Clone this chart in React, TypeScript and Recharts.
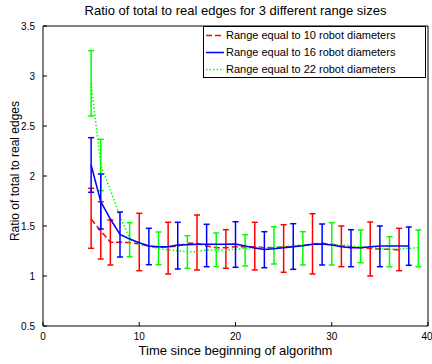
import React from 'react';
import { LineChart, Line, XAxis, YAxis, ErrorBar } from 'recharts';

// time steps
const times = [5, 6, 7, 8, 9, 10, 11, 12, 13, 14, 15, 16, 17, 18, 19, 20, 21, 22, 23, 24, 25, 26, 27, 28, 29, 30, 31, 32, 33, 34, 35, 36, 37, 38, 39];

// mean ratio per series (starting at t=5)
const range10 = [1.57, 1.45, 1.337, 1.337, 1.335, 1.32, 1.3, 1.287, 1.29, 1.3, 1.327, 1.327, 1.3, 1.283, 1.283, 1.293, 1.29, 1.293, 1.283, 1.283, 1.293, 1.293, 1.305, 1.32, 1.327, 1.317, 1.303, 1.29, 1.283, 1.277, 1.27, 1.267, 1.26];
const range16 = [2.11, 1.743, 1.57, 1.417, 1.37, 1.333, 1.3, 1.293, 1.293, 1.31, 1.313, 1.317, 1.317, 1.317, 1.317, 1.32, 1.3, 1.28, 1.265, 1.272, 1.283, 1.293, 1.303, 1.317, 1.32, 1.31, 1.293, 1.283, 1.283, 1.293, 1.3, 1.3, 1.3, 1.3];
const range22 = [2.93, 2.11, 1.86, 1.593, 1.38, 1.317, 1.3, 1.277, 1.26, 1.253, 1.243, 1.243, 1.26, 1.26, 1.26, 1.267, 1.277, 1.283, 1.283, 1.293, 1.293, 1.303, 1.31, 1.317, 1.32, 1.317, 1.31, 1.303, 1.293, 1.287, 1.277, 1.267, 1.27, 1.277, 1.283];

// error bars: where they sit and their low / high ends
const range10BarT = [5, 6, 7, 10, 13, 16, 19, 22, 25, 28, 31, 34, 37];
const range10Lo = [1.277, 1.17, 1.11, 1.053, 1.02, 1.06, 1.077, 1.06, 1.037, 1.02, 1.093, 1.0, 1.053];
const range10Hi = [1.877, 1.743, 1.56, 1.627, 1.537, 1.61, 1.463, 1.537, 1.513, 1.623, 1.5, 1.54, 1.477];

const range16BarT = [5, 6, 8, 11, 14, 17, 20, 23, 26, 29, 32, 35, 38];
const range16Lo = [1.837, 1.47, 1.19, 1.113, 1.07, 1.093, 1.087, 1.083, 1.067, 1.11, 1.093, 1.093, 1.107];
const range16Hi = [2.383, 2.02, 1.64, 1.477, 1.537, 1.517, 1.543, 1.443, 1.523, 1.52, 1.463, 1.5, 1.49];

const range22BarT = [5, 6, 9, 12, 15, 18, 21, 24, 27, 30, 33, 36, 39];
const range22Lo = [2.6, 1.853, 1.193, 1.113, 1.077, 1.093, 1.1, 1.12, 1.11, 1.11, 1.133, 1.093, 1.093];
const range22Hi = [3.253, 2.367, 1.533, 1.44, 1.403, 1.43, 1.413, 1.493, 1.443, 1.533, 1.46, 1.393, 1.46];

const xTicks = [0, 10, 20, 30, 40];
const yTicks = [0.5, 1, 1.5, 2, 2.5, 3, 3.5];

const series = [
    { key: 'r10', name: 'Range equal to 10 robot diameters', color: '#ff0000', dash: '6 3', values: range10, barT: range10BarT, lo: range10Lo, hi: range10Hi },
    { key: 'r22', name: 'Range equal to 22 robot diameters', color: '#00ff00', dash: '1.5 2', values: range22, barT: range22BarT, lo: range22Lo, hi: range22Hi },
    { key: 'r16', name: 'Range equal to 16 robot diameters', color: '#0000ff', dash: undefined, values: range16, barT: range16BarT, lo: range16Lo, hi: range16Hi },
];
const legendOrder = ['r10', 'r16', 'r22'];

const data = times.map((t, i) => {
    const row: any = { t };
    series.forEach(s => {
        const v = i < s.values.length ? s.values[i] : null;
        row[s.key] = v;
        const b = s.barT.indexOf(t);
        row[s.key + 'Err'] = b >= 0 && v != null ? [v - s.lo[b], s.hi[b] - v] : null;
    });
    return row;
});

const FONT = '"Liberation Sans", Arial, Helvetica, sans-serif';

export default function App() {
    return (
        <div style={{ position: 'absolute', left: 0, top: 0, width: 432, height: 364, background: '#fff', fontFamily: FONT, color: '#000' }}>
            <LineChart width={432} height={364} data={data} margin={{ top: 25, right: 3, bottom: 0, left: 0 }} style={{ fontFamily: FONT }}>
                <XAxis
                    dataKey="t"
                    type="number"
                    domain={[0, 40]}
                    ticks={xTicks}
                    allowDataOverflow
                    height={38}
                    stroke="#000"
                    tickSize={-4}
                    tickMargin={11}
                    tick={{ fill: '#000', fontSize: 10 }}
                />
                <XAxis xAxisId="top" orientation="top" type="number" domain={[0, 40]} ticks={xTicks} height={1} stroke="#000" tickSize={-4} tick={false} />
                <YAxis
                    type="number"
                    domain={[0.5, 3.5]}
                    ticks={yTicks}
                    allowDataOverflow
                    width={43}
                    stroke="#000"
                    tickSize={-4}
                    tickMargin={12}
                    tick={{ fill: '#000', fontSize: 10 }}
                />
                <YAxis yAxisId="right" orientation="right" type="number" domain={[0.5, 3.5]} ticks={yTicks} width={1} stroke="#000" tickSize={-4} tick={false} />

                {series.map(s => (
                    <Line
                        key={s.key}
                        dataKey={s.key}
                        type="linear"
                        stroke={s.color}
                        strokeWidth={1.5}
                        strokeDasharray={s.dash}
                        dot={false}
                        activeDot={false}
                        isAnimationActive={false}
                    >
                        <ErrorBar dataKey={s.key + 'Err'} direction="y" width={3} stroke={s.color} strokeWidth={1.5} isAnimationActive={false} />
                    </Line>
                ))}
            </LineChart>

            {/* title and axis labels */}
            <div style={{ position: 'absolute', left: 43, width: 385, top: 3, textAlign: 'center', fontSize: 13, lineHeight: '15px', whiteSpace: 'nowrap' }}>
                Ratio of total to real edges for 3 different range sizes
            </div>
            <div style={{ position: 'absolute', left: 43, width: 385, top: 343, textAlign: 'center', fontSize: 13, lineHeight: '15px', whiteSpace: 'nowrap' }}>
                Time since beginning of algorithm
            </div>
            <div style={{ position: 'absolute', left: 15, top: 171, transform: 'translate(-50%, -50%) rotate(-90deg)', fontSize: 12, lineHeight: '14px', whiteSpace: 'nowrap' }}>
                Ratio of total to real edges
            </div>

            {/* legend */}
            <div style={{ position: 'absolute', left: 203, top: 26, width: 221, height: 50, border: '1px solid #000', background: '#fff' }}>
                {legendOrder.map(k => {
                    const s = series.find(x => x.key === k)!;
                    return (
                        <div key={k} style={{ display: 'flex', alignItems: 'center', height: 17, fontSize: 11, lineHeight: '17px', whiteSpace: 'nowrap' }}>
                            <svg width={19} height={17} style={{ marginLeft: 1, marginRight: 2, flex: 'none' }}>
                                <line x1={1} y1={8.5} x2={19} y2={8.5} stroke={s.color} strokeWidth={1.5} strokeDasharray={s.dash} />
                            </svg>
                            <span>{s.name}</span>
                        </div>
                    );
                })}
            </div>
        </div>
    );
}
